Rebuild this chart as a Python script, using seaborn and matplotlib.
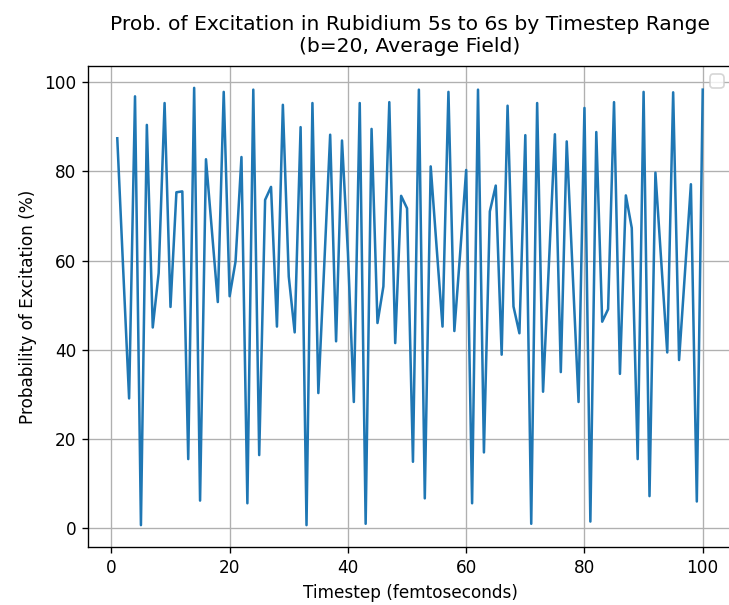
import matplotlib
matplotlib.use("Agg")
import matplotlib.pyplot as plt
import seaborn as sns
import pandas as pd

timesteps = list(range(1, 101))
probability = [
    87.4, 58.0, 29.1, 96.8, 0.7, 90.4, 45.0, 57.2, 95.3, 49.6,
    75.3, 75.5, 15.5, 98.7, 6.2, 82.7, 66.7, 50.7, 97.8, 52.0,
    59.8, 83.2, 5.6, 98.3, 16.4, 73.6, 76.5, 45.2, 94.9, 56.4,
    43.9, 89.9, 0.7, 95.3, 30.3, 59.0, 88.2, 41.9, 86.9, 61.8,
    28.3, 95.3, 1.0, 89.5, 46.0, 54.2, 95.5, 41.5, 74.5, 71.7,
    14.9, 98.3, 6.7, 81.1, 63.0, 45.2, 97.8, 44.2, 62.0, 80.3,
    5.6, 98.3, 17.0, 71.0, 76.8, 38.9, 94.7, 49.7, 43.7, 88.1,
    1.0, 95.3, 30.6, 59.5, 88.3, 35.0, 86.7, 57.5, 28.3, 94.2,
    1.5, 88.8, 46.3, 49.1, 95.5, 34.6, 74.6, 67.3, 15.5, 97.8,
    7.2, 79.7, 59.5, 39.4, 97.7, 37.7, 57.4, 77.1, 6.0, 98.3,
]

df = pd.DataFrame({"t": timesteps, "p": probability})

DPI = 121.5
fig, ax = plt.subplots(figsize=(729 / DPI, 605 / DPI), dpi=DPI)
fig.subplots_adjust(left=88 / 729, right=732 / 729, top=1 - 66 / 605, bottom=1 - 547 / 605)
sns.lineplot(data=df, x="t", y="p", ax=ax, color="#1f77b4")
ax.set_title("Prob. of Excitation in Rubidium 5s to 6s by Timestep Range\n(b=20, Average Field)",
             fontsize=12, pad=8.5)
ax.set_xlabel("Timestep (femtoseconds)", fontsize=10)
ax.set_ylabel("Probability of Excitation (%)", fontsize=10)
ax.grid(True)
ax.legend(handles=[], loc="upper right")
fig.savefig("out.png", dpi=DPI)
